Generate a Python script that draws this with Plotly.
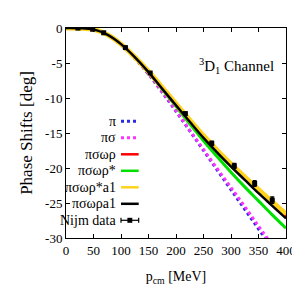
import plotly.graph_objects as go

# ---- data ----
p_grid = [0, 25, 50, 75, 100, 125, 150, 175, 200, 225, 250, 275, 300, 325, 350, 375, 400]
pi_vals      = [0, -0.02, -0.2, -0.95, -2.4, -4.3, -6.6, -9.2, -11.9, -14.7, -17.5, -20.3, -23.1, -25.9, -28.7, -31.5, -34.3]
pisig_vals   = [0, -0.02, -0.2, -0.95, -2.4, -4.3, -6.55, -9.1, -11.8, -14.6, -17.35, -20.1, -22.8, -25.5, -28.3, -31.0, -33.7]
pswr_vals    = [0, -0.02, -0.2, -0.95, -2.3, -4.15, -6.25, -8.6, -10.95, -13.25, -15.5, -17.6, -19.6, -21.5, -23.4, -25.2, -26.95]
pswrs_vals   = [0, -0.02, -0.2, -0.95, -2.3, -4.2, -6.35, -8.75, -11.2, -13.7, -16.1, -18.4, -20.6, -22.7, -24.7, -26.7, -28.6]
pswrsa_vals  = [0, -0.02, -0.2, -0.95, -2.3, -4.15, -6.2, -8.5, -10.85, -13.15, -15.4, -17.5, -19.45, -21.3, -23.1, -24.85, -26.6]
pswra_vals   = [0, -0.02, -0.2, -0.95, -2.3, -4.15, -6.3, -8.7, -11.05, -13.4, -15.7, -17.8, -19.8, -21.7, -23.6, -25.4, -27.2]

nijm_p   = [21.7, 48.5, 68.5, 108, 153, 217, 265, 306, 343, 375]
nijm_val = [-0.01, -0.18, -0.68, -2.8, -6.43, -12.23, -16.48, -19.71, -22.21, -24.6]
nijm_err = [0.0, 0.05, 0.05, 0.1, 0.15, 0.2, 0.3, 0.35, 0.4, 0.45]

series_names  = ["π", "πσ", "πσωρ", "πσωρ*", "πσωρ*a1", "πσωρa1"]
series_vals   = [pi_vals, pisig_vals, pswr_vals, pswrs_vals, pswrsa_vals, pswra_vals]
series_colors = ["#2a2ae8", "#ff33ff", "#ff0000", "#00e000", "#ffd21e", "#000000"]
series_dash   = ["dot", "dot", "solid", "solid", "solid", "solid"]
series_width  = [3, 3, 3, 3, 5, 2.5]

x_ticks = [0, 50, 100, 150, 200, 250, 300, 350, 400]
y_ticks = [0, -5, -10, -15, -20, -25, -30]

FONT = "Liberation Serif, Times New Roman, serif"

fig = go.Figure()
for name, vals, col, dash, w in zip(series_names, series_vals, series_colors, series_dash, series_width):
    fig.add_trace(go.Scatter(x=p_grid, y=vals, mode="lines", name=name,
                             line=dict(color=col, dash=dash, width=w, shape="spline"),
                             showlegend=False))

fig.add_trace(go.Scatter(x=nijm_p, y=nijm_val, mode="markers", name="Nijm data",
                         marker=dict(symbol="square", size=5, color="black"),
                         error_y=dict(type="data", array=nijm_err, color="black", thickness=1.5, width=2),
                         showlegend=False))

# ---- custom legend (text left, sample right) ----
L, R, T, B = 58, 18, 20, 70
W, H = 300 - L - R, 300 - T - B
def px(x): return (x - L) / W
def py(y): return (T + H - y) / H

legend_labels = series_names + ["Nijm data"]
entry_y0, entry_dy = 113.3, 16.5
for i, lab in enumerate(legend_labels):
    yy = py(entry_y0 + i * entry_dy)
    fig.add_annotation(x=px(111), y=yy, xref="paper", yref="paper", text=lab, showarrow=False,
                       xanchor="right", yanchor="middle", font=dict(family=FONT, size=14, color="black"))
    if i < len(series_names):
        fig.add_shape(type="line", xref="paper", yref="paper", x0=px(114), x1=px(132), y0=yy, y1=yy,
                      line=dict(color=series_colors[i], width=3 if series_dash[i] == "dot" else 2.5,
                                dash="dot" if series_dash[i] == "dot" else "solid"))
    else:
        fig.add_shape(type="line", xref="paper", yref="paper", x0=px(114), x1=px(132), y0=yy, y1=yy,
                      line=dict(color="black", width=1.2))
        for xe in (114, 132):
            fig.add_shape(type="line", xref="paper", yref="paper", x0=px(xe), x1=px(xe),
                          y0=yy - 2.5 / H, y1=yy + 2.5 / H, line=dict(color="black", width=1.2))
        fig.add_shape(type="rect", xref="paper", yref="paper", x0=px(120.5), x1=px(125.5),
                      y0=yy - 2.5 / H, y1=yy + 2.5 / H, line=dict(color="black", width=0), fillcolor="black")

fig.add_annotation(x=px(272), y=py(58), xref="paper", yref="paper",
                   text="<sup>3</sup>D<sub>1</sub> Channel", showarrow=False,
                   xanchor="right", yanchor="middle", font=dict(family=FONT, size=15, color="black"))

axis_common = dict(showline=True, linecolor="black", linewidth=1, mirror="ticks",
                   ticks="inside", ticklen=4, tickcolor="black", showgrid=False, zeroline=False,
                   tickfont=dict(family=FONT, size=13, color="black"))

fig.update_xaxes(range=[0, 400], tickvals=x_ticks, ticktext=[str(v) for v in x_ticks],
                 title=dict(text="p<sub>cm</sub> [MeV]", font=dict(family=FONT, size=14, color="black"), standoff=14),
                 **axis_common)
fig.update_yaxes(range=[-30, 0], tickvals=y_ticks, ticktext=[str(v) for v in y_ticks],
                 title=dict(text="Phase Shifts [deg]", font=dict(family=FONT, size=17, color="black"), standoff=8),
                 **axis_common)

fig.update_layout(width=300, height=300, margin=dict(l=L, r=R, t=T, b=B),
                  paper_bgcolor="white", plot_bgcolor="white", showlegend=False)

fig.write_html("out.html")
